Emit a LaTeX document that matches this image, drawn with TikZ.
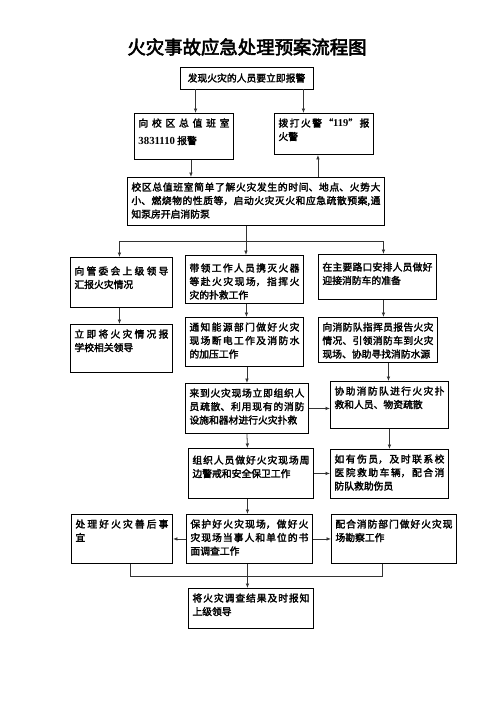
\documentclass[tikz,border=0pt]{standalone}
\usepackage{fontspec}
\usepackage{tikz}
\usetikzlibrary{arrows.meta}
\newfontfamily\cjk{Noto Sans CJK SC}[FakeBold=2.2]
\newfontfamily\cjkhead{Noto Sans CJK SC}[FakeBold=3]
\newfontfamily\tnr{Liberation Serif}
\XeTeXlinebreaklocale "zh"
\XeTeXlinebreakskip=0pt plus 3pt
\newcommand{\cell}[4][0pt]{\parbox[c][#3][t]{#2}{\tolerance=10000\hbadness=10000\vspace*{#1}#4}}

\begin{document}
\begin{tikzpicture}[x=1pt,y=-1pt,
	stepbox/.style={draw,line width=0.9pt,anchor=north west,inner xsep=4pt,inner ysep=5pt,font=\cjk\fontsize{9.8}{13.5}\selectfont},
	arr/.style={-{Latex[length=4.5pt,width=3.6pt]},line width=0.8pt,black!80},
	link/.style={line width=0.8pt,black!80}]
	\useasboundingbox (0,0) rectangle (496,702);

	\node[font=\cjkhead\fontsize{18.4}{20}\selectfont] (title) at (247,47) {火灾事故应急处理预案流程图};

	\node[draw,line width=0.9pt,minimum width=133pt,minimum height=22pt,inner sep=0pt,font=\cjk\fontsize{9.8}{12}\selectfont] (find) at (246.5,78) {发现火灾的人员要立即报警};
	\node[stepbox] (office) at (134,113) {\cell{91pt}{36pt}{向校区总值班室\vspace{4pt}\linebreak {\tnr\bfseries\fontsize{10.8}{12}\selectfont 3831110} 报警}};
	\node[stepbox] (call) at (274,113) {\cell{91pt}{31pt}{拨打火警“{\tnr\bfseries\fontsize{10.5}{12}\selectfont 119}”报\linebreak 火警}};
	\node[stepbox] (duty) at (127,177) {\cell{249pt}{38pt}{校区总值班室简单了解火灾发生的时间、地点、火势大\linebreak 小、燃烧物的性质等，启动火灾灭火和应急疏散预案,通\linebreak 知泵房开启消防泵}};

	\node[stepbox] (leader) at (70,257) {\cell[4pt]{94pt}{40pt}{向管委会上级领导\linebreak 汇报火灾情况}};
	\node[stepbox] (lead) at (185,255) {\cell[3pt]{110pt}{38pt}{带领工作人员携灭火器\linebreak 等赴火灾现场，指挥火\linebreak 灾的扑救工作}};
	\node[stepbox] (guide) at (318,254) {\cell[3pt]{110pt}{35pt}{在主要路口安排人员做好\linebreak 迎接消防车的准备}};

	\node[stepbox] (report) at (70,324) {\cell{94pt}{38pt}{立即将火灾情况报\linebreak 学校相关领导}};
	\node[stepbox] (power) at (185,317) {\cell{110pt}{39pt}{通知能源部门做好火灾\linebreak 现场断电工作及消防水\linebreak 的加压工作}};
	\node[stepbox] (brief) at (318,317) {\cell{111pt}{35pt}{向消防队指挥员报告火灾\linebreak 情况、引领消防车到火灾\linebreak 现场、协助寻找消防水源}};

	\node[stepbox] (evac) at (185,383) {\cell{115pt}{40pt}{来到火灾现场立即组织人\linebreak 员疏散、利用现有的消防\linebreak 设施和器材进行火灾扑救}};
	\node[stepbox] (assist) at (330,381) {\cell{110pt}{37pt}{协助消防队进行火灾扑\linebreak 救和人员、物资疏散}};

	\node[stepbox] (guard) at (188,448) {\cell[2pt]{117pt}{40pt}{组织人员做好火灾现场周\linebreak 边警戒和安全保卫工作}};
	\node[stepbox] (injured) at (330,449) {\cell{110pt}{39pt}{如有伤员，及时联系校\linebreak 医院救助车辆，配合消\linebreak 防队救助伤员}};

	\node[stepbox] (aftermath) at (71,514) {\cell{93pt}{39pt}{处理好火灾善后事\linebreak 宜}};
	\node[stepbox] (protect) at (186,514) {\cell{118pt}{39pt}{保护好火灾现场，做好火\linebreak 灾现场当事人和单位的书\linebreak 面调查工作}};
	\node[stepbox] (survey) at (331,514) {\cell{117pt}{39pt}{配合消防部门做好火灾现\linebreak 场勘察工作}};

	\node[stepbox] (inform) at (188,588) {\cell{117pt}{30pt}{将火灾调查结果及时报知\linebreak 上级领导}};

	% top part
	\coordinate (f1) at ([xshift=16pt]find.south west);
	\coordinate (f2) at ([xshift=-10pt]find.south east);
	\draw[arr] (f1) -- (f1 |- office.north);
	\draw[arr] (f2) -- (f2 |- call.north);
	\coordinate (o1) at ([xshift=7pt]office.south);
	\draw[arr] (o1) -- (o1 |- duty.north);
	\coordinate (c1) at ([xshift=-6pt]call.south);
	\draw[arr] (c1 |- duty.north) -- (c1);

	% three branches
	\coordinate (fan) at ([xshift=-10pt,yshift=-15pt]duty.south);
	\draw[link] ([xshift=-10pt]duty.south) -- (fan);
	\draw[arr] (fan) -| ([xshift=-2pt]leader.north);
	\draw[arr] (fan) -- (fan |- lead.north);
	\draw[arr] (fan) -| ([xshift=6pt]guide.north);

	\draw[arr] ([xshift=-2pt]leader.south) -- ([xshift=-2pt]report.north);
	\draw[arr] ([xshift=2pt]lead.south) -- ([xshift=2pt]power.north);
	\draw[arr] ([xshift=6pt]guide.south) -- ([xshift=5.5pt]brief.north);
	\draw[arr] ([xshift=2.5pt]power.south) -- (evac.north);
	\draw[arr] ([xshift=10.5pt]brief.south) -- ([xshift=-1pt]assist.north);
	\draw[arr] (evac.east) -- (evac.east -| assist.west);
	\draw[arr] (evac.south) -- ([xshift=-3.5pt]guard.north);
	\draw[arr] (assist.south) -- (injured.north);
	\draw[arr] (guard.east) -- (guard.east -| injured.west);
	\draw[arr] ([xshift=-3.5pt]guard.south) -- ([xshift=-2pt]protect.north);
	\draw[arr] (protect.west) -- (protect.west -| aftermath.east);
	\draw[arr] (protect.east) -- (protect.east -| survey.west);

	% merge to the last step
	\coordinate (m) at ([xshift=-2pt,yshift=-12.5pt]protect.south);
	\draw[link] ([xshift=8.5pt]aftermath.south) |- (m) -| ([xshift=-11.5pt]survey.south);
	\draw[arr] ([xshift=-2pt]protect.south) -- ([xshift=-3.5pt]inform.north);
\end{tikzpicture}
\end{document}
